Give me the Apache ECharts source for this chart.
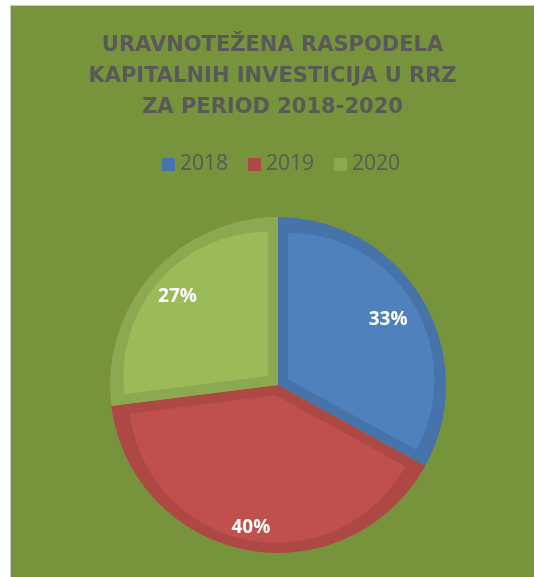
<!DOCTYPE html>
<html>
<head>
<meta charset="utf-8">
<title>Uravnotežena raspodela kapitalnih investicija</title>
<script src="https://cdn.jsdelivr.net/npm/echarts@6/dist/echarts.min.js"></script>
<style>
  html, body { margin: 0; padding: 0; background: #ffffff; }
  #frame {
    position: absolute; left: 10px; top: 5px; width: 524px; height: 572px;
    border-left: 1px solid #c8c8c8; border-top: 1px solid #c8c8c8;
  }
  #chart { position: absolute; left: 0; top: 0; width: 523px; height: 571px; }
</style>
</head>
<body>
<div id="frame"><div id="chart"></div></div>
<script>
// Shares of capital investment per year
const categories = ['2018', '2019', '2020'];
const values = [33, 40, 27];

// Slice fills and their darker rims
const fillColors = ['#4f81bd', '#c0504d', '#9bbb59'];
const rimColors = ['#4674aa', '#ad4845', '#8ca850'];

// Inset of each light face (pixels along its bisector) and label radius
const faceOffsets = [11.5, 10.5, 13.5];
const labelRadii = [125, 142, 131];

const center = [267, 379];
const outerRadius = 168;
const rimWidth = 10;

const chart = echarts.init(document.getElementById('chart'));

const series = [];

// Darker full pie forms the rim of every slice
series.push({
  type: 'pie',
  center: center,
  radius: outerRadius,
  startAngle: 90,
  clockwise: true,
  silent: true,
  animation: false,
  label: { show: false },
  labelLine: { show: false },
  emphasis: { disabled: true },
  data: categories.map((c, i) => ({
    name: c, value: values[i], itemStyle: { color: rimColors[i] }
  }))
});

// Lighter face of each slice, pushed out along its bisector so the rim shows on all sides
categories.forEach((c, k) => {
  series.push({
    type: 'pie',
    center: center,
    radius: outerRadius - rimWidth - faceOffsets[k],
    startAngle: 90,
    clockwise: true,
    silent: true,
    animation: false,
    selectedMode: 'multiple',
    selectedOffset: faceOffsets[k],
    label: { show: false },
    labelLine: { show: false },
    emphasis: { disabled: true },
    select: { itemStyle: { color: fillColors[k] } },
    data: categories.map((n, i) => ({
      name: n,
      value: values[i],
      selected: i === k,
      itemStyle: { color: i === k ? fillColors[k] : 'transparent' }
    }))
  });
});

// Percentage labels
categories.forEach((c, k) => {
  series.push({
    type: 'pie',
    center: center,
    radius: [labelRadii[k] - 5, labelRadii[k] + 5],
    startAngle: 90,
    clockwise: true,
    silent: true,
    animation: false,
    labelLine: { show: false },
    emphasis: { disabled: true },
    itemStyle: { color: 'transparent' },
    data: categories.map((n, i) => ({
      name: n,
      value: values[i],
      label: {
        show: i === k,
        position: 'inside',
        formatter: '{d}%',
        color: '#ffffff',
        fontFamily: 'Open Sans',
        fontWeight: 'bold',
        fontSize: 19
      }
    }))
  });
});

chart.setOption({
  backgroundColor: '#77933c',
  animation: false,
  title: {
    text: 'URAVNOTEŽENA RASPODELA\nKAPITALNIH INVESTICIJA U RRZ\nZA PERIOD 2018-2020',
    left: 'center',
    top: 24,
    padding: 0,
    textStyle: {
      color: '#595959',
      fontFamily: 'DejaVu Sans',
      fontWeight: 'bold',
      fontSize: 21,
      lineHeight: 31
    }
  },
  legend: {
    data: categories,
    top: 143,
    left: 146,
    icon: 'rect',
    itemWidth: 13,
    itemHeight: 13,
    itemGap: 20,
    selectedMode: false,
    textStyle: {
      color: '#595959',
      fontFamily: 'Open Sans',
      fontSize: 21
    }
  },
  color: fillColors,
  series: series
});
</script>
</body>
</html>
